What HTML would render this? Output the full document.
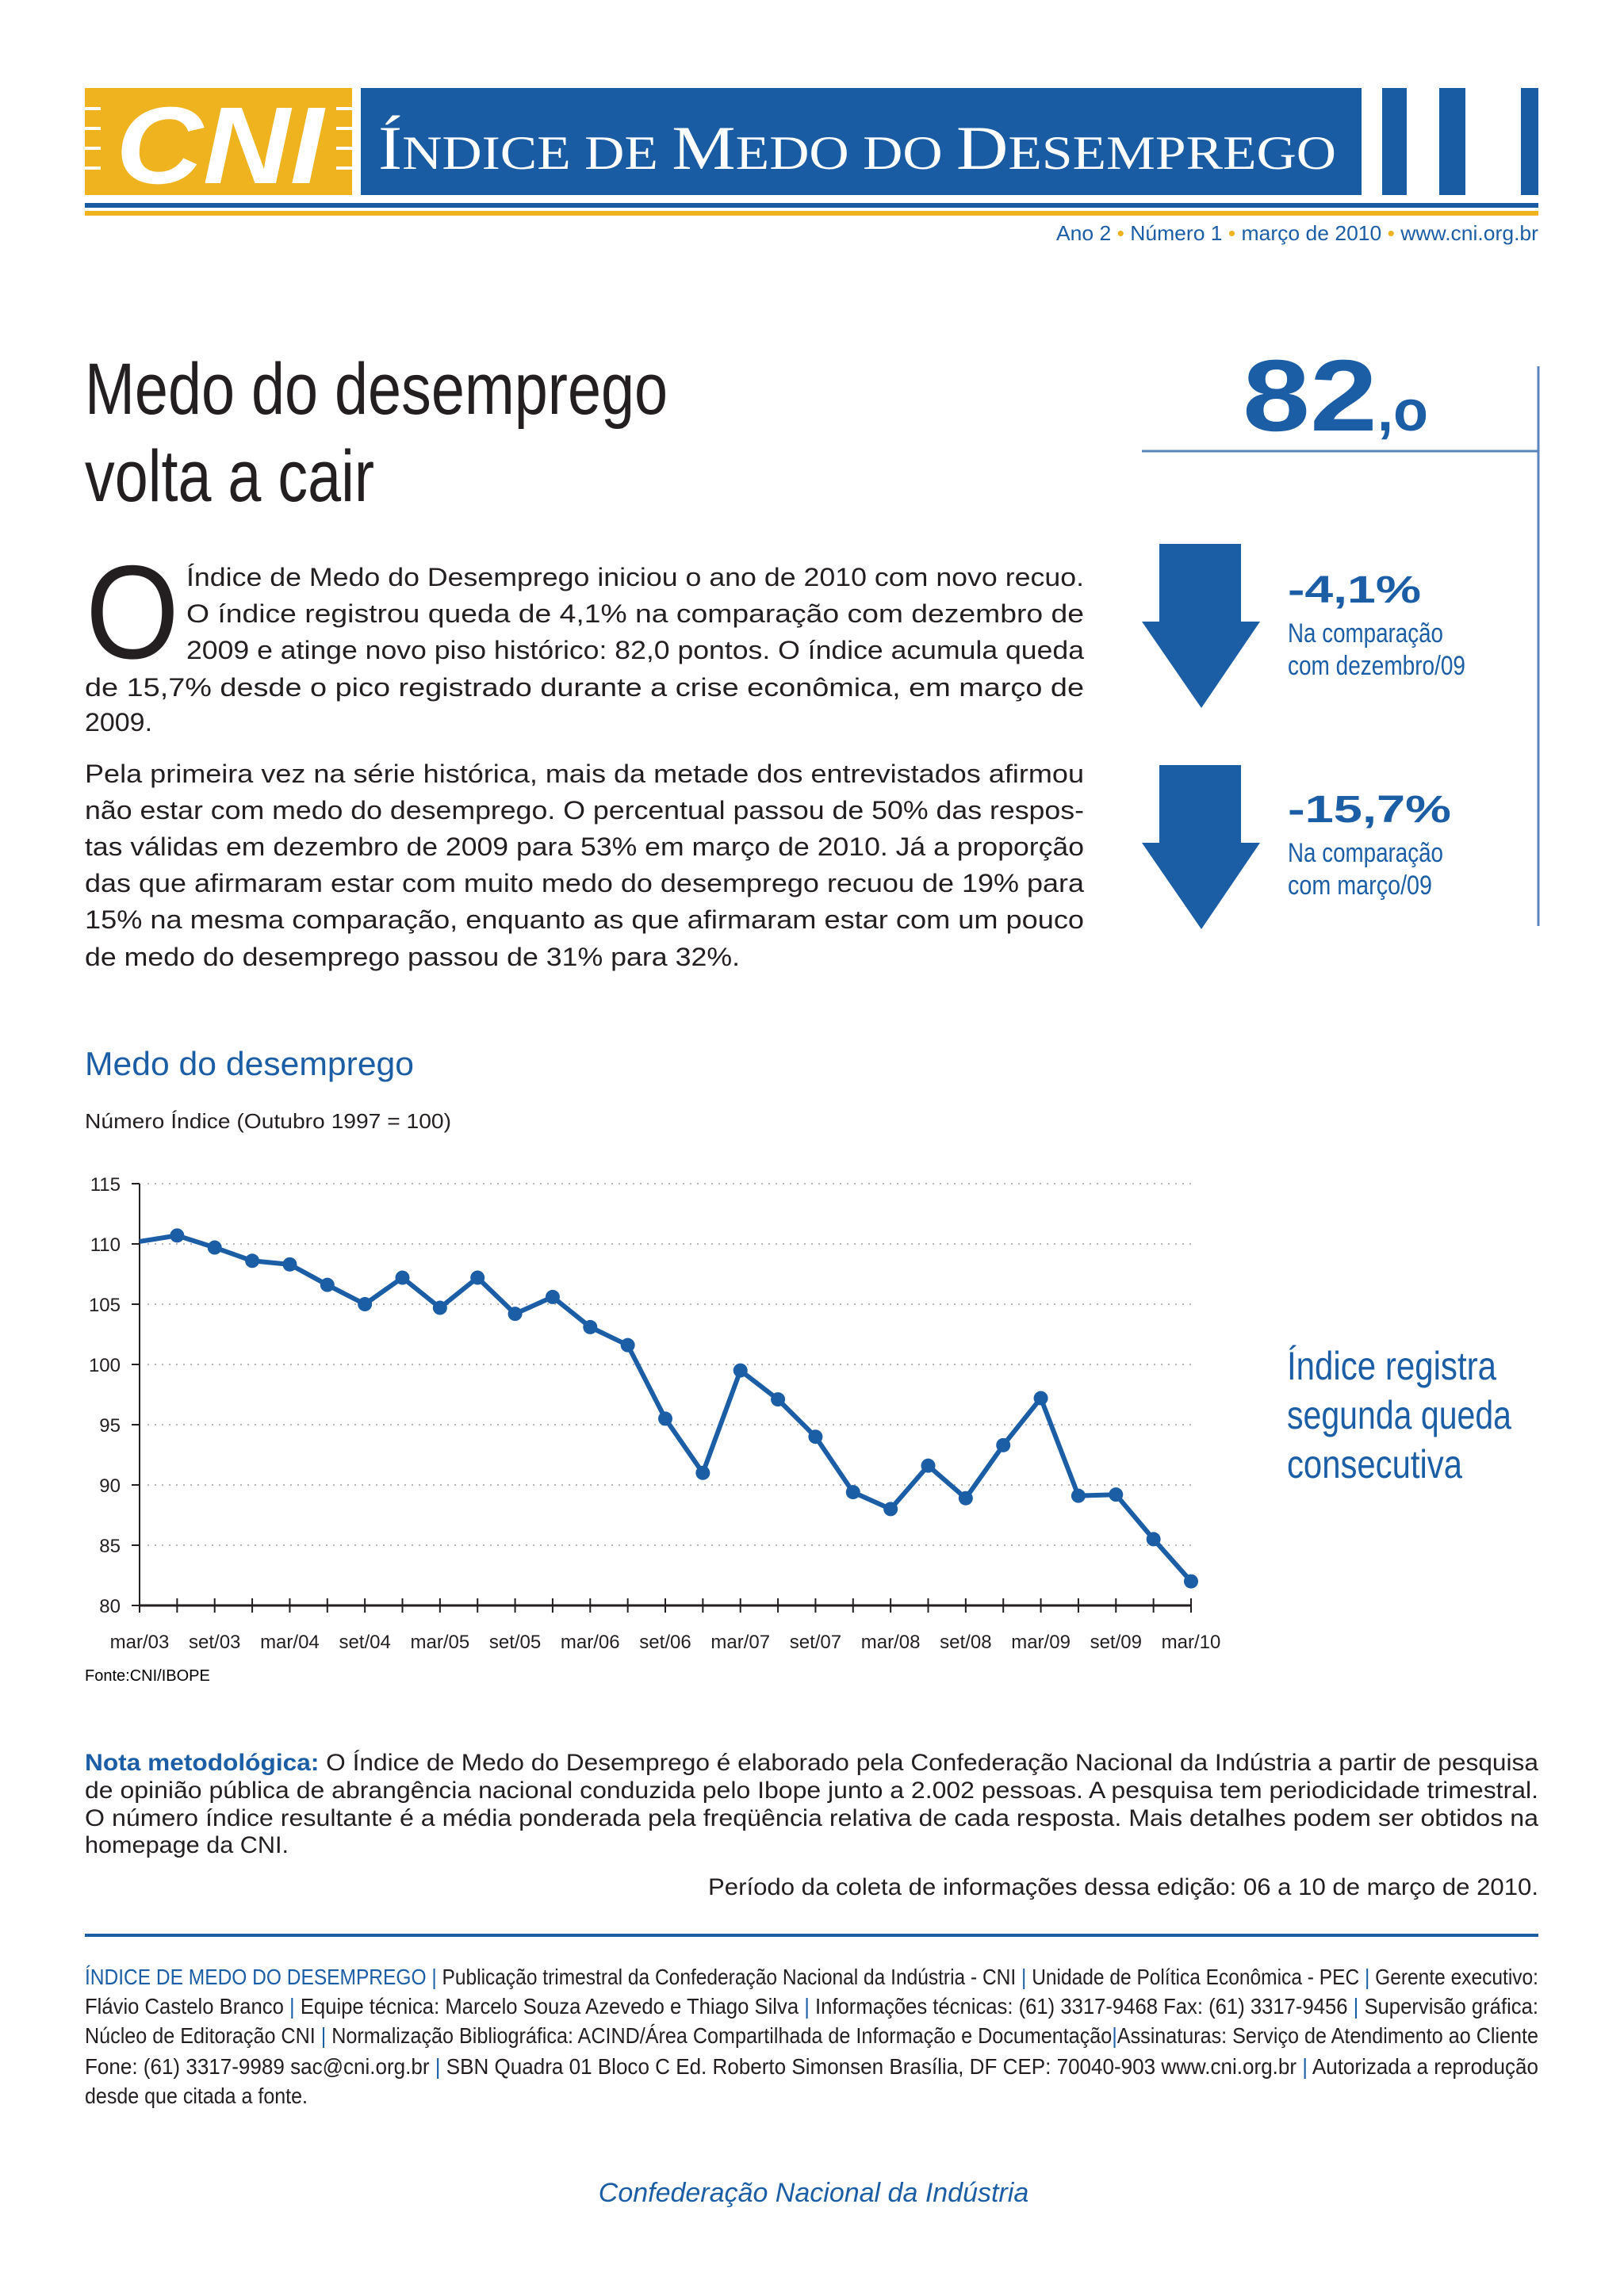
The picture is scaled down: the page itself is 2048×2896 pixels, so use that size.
<!DOCTYPE html>
<html><head><meta charset="utf-8"><title>Índice de Medo do Desemprego</title>
<style>html,body{margin:0;padding:0;background:#fff}svg{display:block}
.b{font-family:"Liberation Sans",sans-serif;fill:#231f20}
.bl{fill:#1b5ea6}</style></head>
<body>
<svg id="page" width="2048" height="2896" viewBox="0 0 2048 2896" xmlns="http://www.w3.org/2000/svg">
<g>
 <rect x="107" y="111" width="337" height="135" fill="#efb320"/>
 <g fill="#fff">
  <rect x="107" y="135" width="20" height="4"/><rect x="107" y="160" width="20" height="4"/><rect x="107" y="185" width="20" height="4"/><rect x="107" y="210" width="20" height="4"/>
  <rect x="424" y="135" width="20" height="4"/><rect x="424" y="160" width="20" height="4"/><rect x="424" y="185" width="20" height="4"/><rect x="424" y="210" width="20" height="4"/>
 </g>
 <text x="146" y="231" font-family="Liberation Sans,sans-serif" font-weight="bold" font-style="italic" font-size="138" fill="#fff" textLength="262" lengthAdjust="spacingAndGlyphs">CNI</text>
 <rect x="455" y="111" width="1262" height="135" fill="#1a5ca3"/>
 <text x="477" y="213" font-family="Liberation Serif,serif" fill="#fff" textLength="1208" lengthAdjust="spacingAndGlyphs"><tspan font-size="78">Í</tspan><tspan font-size="60">NDICE DE </tspan><tspan font-size="78">M</tspan><tspan font-size="60">EDO DO </tspan><tspan font-size="78">D</tspan><tspan font-size="60">ESEMPREGO</tspan></text>
 <rect x="1743" y="111" width="31" height="135" fill="#1a5ca3"/>
 <rect x="1815" y="111" width="33" height="135" fill="#1a5ca3"/>
 <rect x="1918" y="111" width="22" height="135" fill="#1a5ca3"/>
 <rect x="107" y="256" width="1833" height="6" fill="#1a5ca3"/>
 <rect x="107" y="266" width="1833" height="6" fill="#efb320"/>
 <text x="1332" y="303" font-family="Liberation Sans,sans-serif" font-size="26" fill="#1b5ea6" textLength="608" lengthAdjust="spacingAndGlyphs">Ano 2 <tspan fill="#efb320">•</tspan> Número 1 <tspan fill="#efb320">•</tspan> março de 2010 <tspan fill="#efb320">•</tspan> www.cni.org.br</text>
</g>

<g class="b" font-size="92">
 <text x="107" y="522" class="b" textLength="735" lengthAdjust="spacingAndGlyphs">Medo do desemprego</text>
 <text x="107" y="632" class="b" textLength="365" lengthAdjust="spacingAndGlyphs">volta a cair</text>
</g>

<g font-family="Liberation Sans,sans-serif" font-size="32" fill="#231f20">
 <text x="108" y="830" font-size="168" textLength="118" lengthAdjust="spacingAndGlyphs">O</text>
 <text x="235" y="739" textLength="1132" lengthAdjust="spacingAndGlyphs">Índice de Medo do Desemprego iniciou o ano de 2010 com novo recuo.</text>
 <text x="235" y="785" textLength="1132" lengthAdjust="spacingAndGlyphs">O índice registrou queda de 4,1% na comparação com dezembro de</text>
 <text x="235" y="831" textLength="1132" lengthAdjust="spacingAndGlyphs">2009 e atinge novo piso histórico: 82,0 pontos. O índice acumula queda</text>
 <text x="107" y="878" textLength="1260" lengthAdjust="spacingAndGlyphs">de 15,7% desde o pico registrado durante a crise econômica, em março de</text>
 <text x="107" y="922" textLength="85" lengthAdjust="spacingAndGlyphs">2009.</text>
 <text x="107" y="987" textLength="1260" lengthAdjust="spacingAndGlyphs">Pela primeira vez na série histórica, mais da metade dos entrevistados afirmou</text>
 <text x="107" y="1033" textLength="1260" lengthAdjust="spacingAndGlyphs">não estar com medo do desemprego. O percentual passou de 50% das respos-</text>
 <text x="107" y="1079" textLength="1260" lengthAdjust="spacingAndGlyphs">tas válidas em dezembro de 2009 para 53% em março de 2010. Já a proporção</text>
 <text x="107" y="1125" textLength="1260" lengthAdjust="spacingAndGlyphs">das que afirmaram estar com muito medo do desemprego recuou de 19% para</text>
 <text x="107" y="1171" textLength="1260" lengthAdjust="spacingAndGlyphs">15% na mesma comparação, enquanto as que afirmaram estar com um pouco</text>
 <text x="107" y="1218" textLength="826" lengthAdjust="spacingAndGlyphs">de medo do desemprego passou de 31% para 32%.</text>
</g>

<g>
 <text x="1567" y="543" font-family="Liberation Sans,sans-serif" font-weight="bold" fill="#1b5ea6"><tspan font-size="128" textLength="170" lengthAdjust="spacingAndGlyphs">82</tspan><tspan font-size="72">,o</tspan></text>
 <line x1="1440" y1="569" x2="1940" y2="569" stroke="#5a86c0" stroke-width="3"/>
 <line x1="1940" y1="462" x2="1940" y2="1168" stroke="#5a86c0" stroke-width="3"/>
 <polygon points="1462,686 1565,686 1565,784 1589,784 1515,893 1440,784 1462,784" fill="#1b5ea6"/>
 <polygon points="1462,965 1565,965 1565,1063 1589,1063 1515,1172 1440,1063 1462,1063" fill="#1b5ea6"/>
 <g font-family="Liberation Sans,sans-serif" fill="#1b5ea6">
  <text x="1624" y="760" font-size="48" font-weight="bold" textLength="168" lengthAdjust="spacingAndGlyphs">-4,1%</text>
  <text x="1624" y="810" font-size="34" textLength="196" lengthAdjust="spacingAndGlyphs">Na comparação</text>
  <text x="1624" y="851" font-size="34" textLength="224" lengthAdjust="spacingAndGlyphs">com dezembro/09</text>
  <text x="1624" y="1037" font-size="48" font-weight="bold" textLength="206" lengthAdjust="spacingAndGlyphs">-15,7%</text>
  <text x="1624" y="1087" font-size="34" textLength="196" lengthAdjust="spacingAndGlyphs">Na comparação</text>
  <text x="1624" y="1128" font-size="34" textLength="182" lengthAdjust="spacingAndGlyphs">com março/09</text>
 </g>
</g>

<g>
 <text x="107" y="1356" font-family="Liberation Sans,sans-serif" font-size="42" fill="#1b5ea6" textLength="415" lengthAdjust="spacingAndGlyphs">Medo do desemprego</text>
 <text x="107" y="1423" font-family="Liberation Sans,sans-serif" font-size="26" fill="#231f20" textLength="462" lengthAdjust="spacingAndGlyphs">Número Índice (Outubro 1997 = 100)</text>
 <g id="grid"></g><g id="axes"></g><g id="series"></g>
 <text x="107" y="2120" font-family="Liberation Sans,sans-serif" font-size="20" fill="#000">Fonte:CNI/IBOPE</text>
 <g font-family="Liberation Sans,sans-serif" font-size="50" fill="#1b5ea6">
  <text x="1623" y="1740" textLength="264" lengthAdjust="spacingAndGlyphs">Índice registra</text>
  <text x="1623" y="1802" textLength="283" lengthAdjust="spacingAndGlyphs">segunda queda</text>
  <text x="1623" y="1864" textLength="221" lengthAdjust="spacingAndGlyphs">consecutiva</text>
 </g>
</g>

<g font-family="Liberation Sans,sans-serif" font-size="30" fill="#231f20">
 <text x="107" y="2233" textLength="1833" lengthAdjust="spacingAndGlyphs"><tspan font-weight="bold" fill="#1b5ea6">Nota metodológica:</tspan> O Índice de Medo do Desemprego é elaborado pela Confederação Nacional da Indústria a partir de pesquisa</text>
 <text x="107" y="2268" textLength="1833" lengthAdjust="spacingAndGlyphs">de opinião pública de abrangência nacional conduzida pelo Ibope junto a 2.002 pessoas. A pesquisa tem periodicidade trimestral.</text>
 <text x="107" y="2303" textLength="1833" lengthAdjust="spacingAndGlyphs">O número índice resultante é a média ponderada pela freqüência relativa de cada resposta. Mais detalhes podem ser obtidos na</text>
 <text x="107" y="2337" textLength="257" lengthAdjust="spacingAndGlyphs">homepage da CNI.</text>
 <text x="893" y="2390" textLength="1047" lengthAdjust="spacingAndGlyphs">Período da coleta de informações dessa edição: 06 a 10 de março de 2010.</text>
</g>

<rect x="107" y="2439" width="1833" height="4" fill="#1a5ca3"/>

<g font-family="Liberation Sans,sans-serif" font-size="28" fill="#231f20">
 <text x="107" y="2503" textLength="1833" lengthAdjust="spacingAndGlyphs"><tspan fill="#1b5ea6">ÍNDICE DE MEDO DO DESEMPREGO |</tspan> Publicação trimestral da Confederação Nacional da Indústria - CNI <tspan fill="#1b5ea6">|</tspan> Unidade de Política Econômica - PEC <tspan fill="#1b5ea6">|</tspan> Gerente executivo:</text>
 <text x="107" y="2540" textLength="1833" lengthAdjust="spacingAndGlyphs">Flávio Castelo Branco <tspan fill="#1b5ea6">|</tspan> Equipe técnica: Marcelo Souza Azevedo e Thiago Silva <tspan fill="#1b5ea6">|</tspan> Informações técnicas: (61) 3317-9468 Fax: (61) 3317-9456 <tspan fill="#1b5ea6">|</tspan> Supervisão gráfica:</text>
 <text x="107" y="2577" textLength="1833" lengthAdjust="spacingAndGlyphs">Núcleo de Editoração CNI <tspan fill="#1b5ea6">|</tspan> Normalização Bibliográfica: ACIND/Área Compartilhada de Informação e Documentação<tspan fill="#1b5ea6">|</tspan>Assinaturas: Serviço de Atendimento ao Cliente</text>
 <text x="107" y="2616" textLength="1833" lengthAdjust="spacingAndGlyphs">Fone: (61) 3317-9989 sac@cni.org.br <tspan fill="#1b5ea6">|</tspan> SBN  Quadra 01  Bloco C  Ed. Roberto Simonsen  Brasília, DF  CEP: 70040-903  www.cni.org.br <tspan fill="#1b5ea6">|</tspan> Autorizada a reprodução</text>
 <text x="107" y="2653" textLength="281" lengthAdjust="spacingAndGlyphs">desde que citada a fonte.</text>
</g>

<text x="1026" y="2777" text-anchor="middle" font-family="Liberation Sans,sans-serif" font-style="italic" font-size="34" fill="#1b5ea6">Confederação Nacional da Indústria</text>
</svg>
<script>
const categories = ["mar/03","jun/03","set/03","dez/03","mar/04","jun/04","set/04","dez/04","mar/05","jun/05","set/05","dez/05","mar/06","jun/06","set/06","dez/06","mar/07","jun/07","set/07","dez/07","mar/08","jun/08","set/08","dez/08","mar/09","jun/09","set/09","dez/09","mar/10"];
const values = [110.2,110.7,109.7,108.6,108.3,106.6,105.0,107.2,104.7,107.2,104.2,105.6,103.1,101.6,95.5,91.0,99.5,97.1,94.0,89.4,88.0,91.6,88.9,93.3,97.2,89.1,89.2,85.5,82.0];
const yTicks = [80,85,90,95,100,105,110,115];
const xLabelEvery = 2;

const NS = "http://www.w3.org/2000/svg";
const X0 = 176, X1 = 1502, Y0 = 2025, Y1 = 1493, YMIN = 80, YMAX = 115;
function xs(i){ return X0 + (X1 - X0) * i / (categories.length - 1); }
function ys(v){ return Y0 - (v - YMIN) / (YMAX - YMIN) * (Y0 - Y1); }
function mk(tag, attrs, parent){ const e = document.createElementNS(NS, tag); for (const k in attrs) e.setAttribute(k, attrs[k]); parent.appendChild(e); return e; }

const grid = document.getElementById('grid');
const axes = document.getElementById('axes');
const series = document.getElementById('series');

yTicks.forEach(t => {
  if (t > YMIN) {
    const g = mk('line', {x1: X0 + 10, x2: 1506, y1: ys(t), y2: ys(t), stroke: '#b8b8b8', 'stroke-width': 2, 'stroke-dasharray': '2 7'}, grid);
    
    
  }
  const tk = mk('line', {x1: X0 - 10, x2: X0, y1: ys(t), y2: ys(t), stroke: '#231f20', 'stroke-width': 2}, axes);
  
  
  const lb = mk('text', {x: 152, y: ys(t) + 9, 'text-anchor': 'end', 'font-family': 'Liberation Sans, sans-serif', 'font-size': 24, fill: '#231f20'}, axes);
  lb.textContent = t;
  
  
});
const ya = mk('line', {x1: X0, x2: X0, y1: Y1, y2: Y0, stroke: '#231f20', 'stroke-width': 2}, axes);


const xa = mk('line', {x1: X0, x2: X1, y1: Y0, y2: Y0, stroke: '#231f20', 'stroke-width': 3}, axes);



categories.forEach((c, i) => {
  const tk = mk('line', {x1: xs(i), x2: xs(i), y1: Y0 - 9, y2: Y0 + 9, stroke: '#231f20', 'stroke-width': 2}, axes);
  
  
  if (i % xLabelEvery === 0) {
    const lb = mk('text', {x: xs(i), y: 2079, 'text-anchor': 'middle', 'font-family': 'Liberation Sans, sans-serif', 'font-size': 24, fill: '#231f20'}, axes);
    lb.textContent = c;
    
    
  }
});

const pts = values.map((v, i) => xs(i) + ',' + ys(v)).join(' ');
const line = mk('polyline', {points: pts, fill: 'none', stroke: '#1b5ea6', 'stroke-width': 6, 'stroke-linejoin': 'round'}, series);


values.forEach((v, i) => {
  if (i === 0) return;
  const p = mk('circle', {cx: xs(i), cy: ys(v), r: 9, fill: '#1b5ea6'}, series);
  
  
});
</script>
</body></html>
